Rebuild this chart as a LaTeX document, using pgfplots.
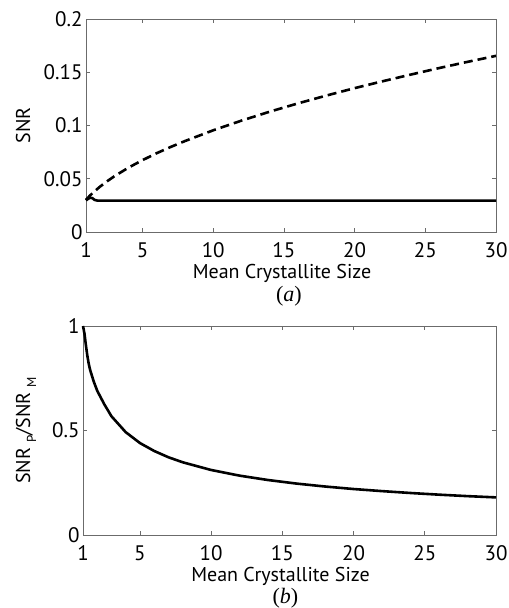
\documentclass[border=0pt]{standalone}
\usepackage{fontspec}
\setmainfont{PT Sans}
\newfontfamily\seriffont{Liberation Serif}
\usepackage{pgfplots}
\pgfplotsset{compat=1.18}
\definecolor{axgray}{rgb}{0.42,0.42,0.42}
\newcommand{\sub}[1]{\hspace{5bp}\raisebox{-6bp}{\fontsize{13bp}{13bp}\selectfont #1}}
\pgfplotsset{
  myaxis/.style={
    scale only axis,
    xmin=1, xmax=30,
    xtick={1,5,10,15,20,25,30},
    axis line style={axgray, line width=0.8bp},
    every tick/.style={axgray, line width=0.8bp},
    major tick length=4bp,
    tick align=inside,
    /pgf/number format/assume math mode=true,
    tick label style={font=\fontsize{21bp}{24bp}\selectfont, black},
    label style={font=\fontsize{20bp}{24bp}\selectfont, black},
    xlabel={Mean Crystallite Size},
    x label style={at={(axis description cs:0.5,0)}, anchor=base, yshift=-46bp, xshift=-9bp},
    xticklabel style={anchor=base, yshift=-25bp},
    clip=false,
  }
}
\begin{document}
\begin{tikzpicture}
\useasboundingbox (0,0) rectangle (509bp,-608bp);
\begin{axis}[myaxis,
  at={(86bp,-232bp)}, anchor=south west,
  width=410bp, height=213bp,
  ymin=0, ymax=0.2,
  ytick={0,0.05,0.1,0.15,0.2},
  yticklabels={0,0.05,0.1,0.15,0.2},
  ylabel={SNR},
  y label style={at={([xshift=-56bp]axis description cs:0,0.5)}, anchor=base, rotate=0},
]
\addplot[black, line width=2.6bp, dash pattern=on 9bp off 5bp] coordinates {
(1,0.0302)(1.25,0.0338)(1.5,0.0370)(2,0.0427)(2.5,0.0477)(3,0.0523)(4,0.0604)(5,0.0675)(6,0.0740)(7,0.0799)(8,0.0854)(10,0.0955)(12,0.1046)(14,0.1130)(16,0.1208)(18,0.1281)(20,0.1351)(22,0.1416)(24,0.1479)(26,0.1540)(28,0.1598)(30,0.1654)
};
\addplot[black, line width=2.6bp] coordinates {
(1,0.0296)(1.15,0.0312)(1.3,0.0322)(1.45,0.0318)(1.6,0.0302)(1.8,0.0295)(30,0.0295)
};
\node[font=\fontsize{22bp}{26bp}\selectfont] at (rel axis cs:0.495,-0.30) {\seriffont(\textit{a})};
\end{axis}
\begin{axis}[myaxis,
  at={(83bp,-535bp)}, anchor=south west,
  width=413bp, height=209bp,
  ymin=0, ymax=1,
  ytick={0,0.5,1},
  yticklabels={0,0.5,1},
  ylabel={SNR\sub{P}/SNR\sub{M}},
  y label style={at={([xshift=-53bp]axis description cs:0,0.5)}, anchor=base, rotate=0},
]
\addplot[black, line width=2.6bp] coordinates {
(1,1)(1.1,0.965)(1.2,0.91)(1.3,0.86)(1.4,0.82)(1.5,0.79)(1.75,0.735)(2,0.69)(2.5,0.625)(3,0.568)(4,0.492)(5,0.440)(6,0.402)(7,0.372)(8,0.348)(10,0.311)(12,0.284)(14,0.263)(16,0.246)(18,0.232)(20,0.220)(22,0.210)(24,0.201)(26,0.193)(28,0.186)(30,0.180)
};
\node[font=\fontsize{22bp}{26bp}\selectfont] at (rel axis cs:0.49,-0.30) {\seriffont(\textit{b})};
\end{axis}
\end{tikzpicture}
\end{document}
